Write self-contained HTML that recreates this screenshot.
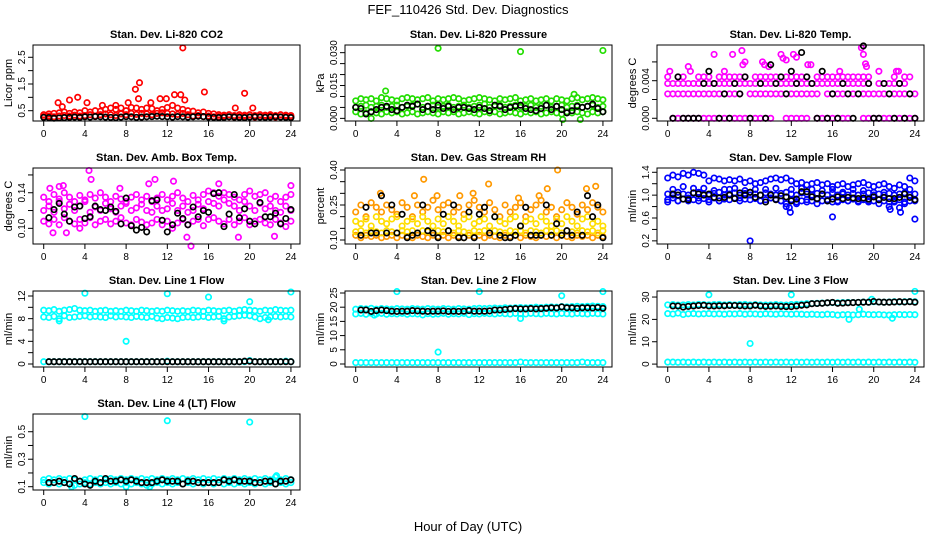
<!DOCTYPE html>
<html><head><meta charset="utf-8"><style>
body{margin:0;background:#fff;}
svg{display:block;font-family:"Liberation Sans",sans-serif;}
</style></head><body>
<svg id="chart" width="936" height="540" viewBox="0 0 936 540" xmlns="http://www.w3.org/2000/svg">
<rect width="936" height="540" fill="#fff"/>
<text x="468" y="14" text-anchor="middle" font-size="13">FEF_110426  Std. Dev. Diagnostics</text>
<text x="468" y="531" text-anchor="middle" font-size="13">Hour of Day (UTC)</text>
</svg>
<script>
const hours=[0,0.5,1,1.5,2,2.5,3,3.5,4,4.5,5,5.5,6,6.5,7,7.5,8,8.5,9,9.5,10,10.5,11,11.5,12,12.5,13,13.5,14,14.5,15,15.5,16,16.5,17,17.5,18,18.5,19,19.5,20,20.5,21,21.5,22,22.5,23,23.5,24];
const xTicks=[0,4,8,12,16,20,24];
// Panel 1 CO2
const co2A=[0.35,0.38,0.4,0.42,0.45,0.4,0.45,0.42,0.5,0.45,0.5,0.48,0.55,0.6,0.55,0.6,0.5,0.62,0.6,0.55,0.6,0.58,0.5,0.55,0.62,0.7,0.6,0.55,0.5,0.48,0.42,0.45,0.4,0.38,0.35,0.33,0.35,0.32,0.35,0.33,0.35,0.32,0.35,0.33,0.35,0.32,0.35,0.33,0.32];
const co2B=[0.28,0.3,0.27,0.3,0.32,0.3,0.33,0.3,0.32,0.35,0.3,0.35,0.38,0.35,0.32,0.38,0.35,0.4,0.36,0.4,0.38,0.35,0.4,0.42,0.4,0.38,0.36,0.4,0.35,0.3,0.32,0.28,0.3,0.27,0.28,0.3,0.27,0.26,0.28,0.3,0.27,0.26,0.28,0.27,0.3,0.26,0.27,0.28,0.26];
const co2K=[0.25,0.24,0.22,0.23,0.24,0.25,0.26,0.25,0.27,0.26,0.28,0.27,0.26,0.25,0.24,0.26,0.28,0.27,0.25,0.26,0.27,0.28,0.29,0.28,0.27,0.26,0.28,0.27,0.26,0.27,0.29,0.28,0.26,0.25,0.24,0.25,0.27,0.26,0.25,0.24,0.26,0.27,0.26,0.25,0.26,0.27,0.26,0.25,0.24];
const co2OutX=[13.5,9.3,8.9,15.6,19.5,12.7,13.3,9.2,11.3,11.9,10.4,4.2,3.3,2.5,1.4,1.8,5.7,7.0,8.2,18.6,20.3,13.7];
const co2OutY=[2.85,1.55,1.3,1.2,1.15,1.1,1.1,0.95,0.95,0.95,0.8,0.8,1.0,0.9,0.8,0.65,0.7,0.7,0.8,0.6,0.6,0.9];
// Panel 2 Pressure
const prA=[0.008,0.009,0.0085,0.009,0.008,0.0095,0.009,0.0085,0.008,0.009,0.0095,0.009,0.0085,0.009,0.0095,0.008,0.009,0.0085,0.009,0.0095,0.009,0.008,0.0085,0.009,0.0095,0.009,0.0085,0.008,0.009,0.0085,0.009,0.0095,0.008,0.0085,0.009,0.008,0.0085,0.009,0.008,0.009,0.0085,0.008,0.009,0.0095,0.0085,0.009,0.0095,0.009,0.0085];
const prB=[0.005,0.0055,0.006,0.005,0.0055,0.006,0.005,0.0055,0.006,0.005,0.0055,0.006,0.0065,0.005,0.0055,0.006,0.005,0.0055,0.006,0.005,0.0055,0.006,0.005,0.0055,0.006,0.0065,0.005,0.0055,0.006,0.005,0.0055,0.006,0.005,0.0055,0.006,0.005,0.0055,0.006,0.005,0.0055,0.006,0.005,0.0055,0.006,0.005,0.0055,0.006,0.005,0.0055];
const prC=[0.003,0.002,0.0025,0.003,0.0025,0.002,0.003,0.0025,0.003,0.002,0.0025,0.003,0.002,0.0025,0.003,0.0025,0.002,0.003,0.0025,0.003,0.002,0.0025,0.003,0.0025,0.002,0.003,0.0025,0.003,0.002,0.0025,0.003,0.0025,0.002,0.003,0.0025,0.003,0.002,0.0025,0.003,0.0025,0.002,0.003,0.0025,0.003,0.0025,0.002,0.003,0.0025,0.003];
const prK=[0.005,0.0045,0.002,0.003,0.004,0.005,0.0055,0.004,0.0035,0.005,0.006,0.0055,0.0065,0.004,0.0055,0.004,0.006,0.0045,0.0055,0.004,0.005,0.005,0.0045,0.004,0.005,0.0045,0.0035,0.006,0.0055,0.004,0.005,0.0055,0.006,0.0045,0.004,0.0035,0.0045,0.006,0.004,0.0055,0.004,0.0025,0.0035,0.0055,0.005,0.0055,0.0065,0.0045,0.003];
const prOutX=[8,16,24,2.9,21.2,20.1,21.8,1.5];
const prOutY=[0.032,0.0305,0.031,0.0125,0.011,-0.0005,-0.0005,0.0];
// Panel 3 Temp
const tmA=[0.0026,0.0026,0.0026,0.0026,0.0026,0.0026,0.0026,0.0026,0.0026,0.0026,0.0026,0.0026,0.0026,0.0026,0.0026,null,0.0026,0.0026,0.0026,0.0026,0.0026,0.0026,0.0026,0.0026,0.0026,0.0026,0.0026,0.0026,0.0026,0.0026,null,0.0026,0.0026,0.0026,0.0026,0.0026,0.0026,0.0026,0.0026,0.0026,0.0026,0.0026,0.0026,0.0026,0.0026,0.0026,0.0026,0.0026,0.0026];
const tmB=[0.0037,0.0037,0.0037,0.0037,0.0037,0.0037,0.0037,0.0037,0.0037,0.0037,0.0037,0.0037,0.0037,0.0037,0.0037,0.0037,0.0037,0.0037,0.0037,0.0037,0.0037,0.0037,0.0037,0.0037,0.0037,0.0037,0.0037,0.0037,0.0037,0.0037,0.0037,0.0037,0.0037,0.0037,0.0037,0.0037,0.0037,0.0037,0.0037,0.0037,null,0.0037,0.0037,0.0037,0.0037,0.0037,0.0037,null,null];
const tmC=[0.0044,null,0.0044,0.0044,null,null,0.0044,0.0044,0.0044,null,0.0044,0.0044,0.0044,0.0044,0.0044,0.0044,null,0.0044,0.0044,0.0044,0.0044,0.0044,0.0044,0.0044,0.0044,0.0044,0.0044,0.0044,null,0.0044,0.0044,0.0044,0.0044,0.0044,0.0044,0.0044,0.0044,0.0044,0.0044,0.0044,null,null,null,null,0.0044,null,0.0044,0.0044,null];
const tmD=[null,0,0,0,0,0,0,0,0,0,0,0,0,0,0,0,0,0,0,0,0,null,null,0,0,0,0,0,null,0,0,0,0,0,0,0,null,null,0,0,0,0,0,0,0,0,0,0,0];
const tmK=[null,0,0.0044,0,0,0,0,0.0037,0.005,0.0037,0,0.0026,0,0.0037,0.0026,0.0044,0,null,0.0037,0,0.0057,0.0037,0.0044,0.0026,0.005,0.0037,0.007,0.0044,0.0037,0,0.005,0,0.0026,0,0.0037,0.0026,0,0.0026,0.0077,0.0037,0,0,0.0037,0.0026,0,0.0037,0,0.0026,0];
const tmOutX=[0.2,2,2.2,4.5,6.3,7.2,7.5,7.3,9.2,9.4,9.8,11,11.2,11.5,12.2,12.5,13.6,13.9,18.8,19,19.3,19.2,22.2,22.4,5.5,16.7,20.5];
const tmOutY=[0.005,0.0055,0.005,0.0068,0.0068,0.0072,0.006,0.0057,0.006,0.0057,0.0055,0.0068,0.0064,0.0062,0.0068,0.0065,0.0057,0.0057,0.0075,0.0068,0.0055,0.0058,0.005,0.005,0.005,0.005,0.005];
// Panel 4 Amb box
const abA=[0.12,0.125,0.118,0.13,0.122,0.127,0.12,0.125,0.13,0.118,0.124,0.12,0.128,0.122,0.118,0.125,0.13,0.12,0.123,0.127,0.12,0.118,0.125,0.12,0.122,0.128,0.12,0.125,0.118,0.12,0.127,0.122,0.13,0.128,0.125,0.132,0.128,0.125,0.12,0.13,0.125,0.12,0.128,0.122,0.125,0.12,0.118,0.125,0.12];
const abB=[0.108,0.105,0.11,0.104,0.112,0.108,0.105,0.11,0.106,0.112,0.104,0.108,0.11,0.105,0.108,0.112,0.106,0.104,0.11,0.107,0.104,0.106,0.11,0.104,0.108,0.1,0.106,0.11,0.104,0.108,0.11,0.103,0.11,0.112,0.108,0.105,0.11,0.104,0.108,0.112,0.104,0.108,0.11,0.106,0.104,0.11,0.106,0.102,0.108];
const abC=[0.135,0.13,0.138,0.133,0.14,0.135,0.13,0.137,0.132,0.138,0.134,0.14,0.135,0.13,0.136,0.133,0.128,0.135,0.138,0.132,0.136,0.13,0.134,0.138,0.132,0.136,0.14,0.134,0.13,0.137,0.132,0.138,0.142,0.14,0.136,0.14,0.138,0.135,0.132,0.138,0.142,0.136,0.138,0.14,0.133,0.136,0.13,0.135,0.138];
const abK=[null,0.112,0.121,0.128,0.116,0.108,0.124,0.125,0.111,0.113,0.125,0.121,0.12,0.124,0.119,0.105,0.134,0.103,0.098,0.101,0.096,0.131,0.132,0.109,0.096,0.104,0.117,0.111,0.104,0.124,0.113,0.12,0.118,0.139,0.14,0.102,0.116,0.138,0.112,0.122,0.108,0.105,0.129,0.113,0.113,0.117,0.105,0.111,0.121];
const abOutX=[4.4,4.6,0.6,1.5,1.9,10.2,10.8,12.6,17,24,14.3,13.9,18.9,22.4,2.2,0.9,3.5,7.4];
const abOutY=[0.165,0.155,0.145,0.147,0.148,0.15,0.155,0.153,0.15,0.148,0.08,0.09,0.09,0.091,0.095,0.095,0.1,0.145];
// Panel 5 RH
const rhA=[0.12,0.11,0.12,0.115,0.12,0.11,0.115,0.12,0.11,0.12,0.115,0.11,0.12,0.115,0.11,0.12,0.115,0.12,0.11,0.12,0.115,0.11,0.12,0.115,0.12,0.11,0.12,0.115,0.11,0.12,0.115,0.12,0.11,0.12,0.115,0.11,0.12,0.115,0.12,0.11,0.12,0.115,0.11,0.12,0.115,0.12,0.11,0.12,0.115];
const rhB=[0.135,0.14,0.13,0.14,0.135,0.13,0.14,0.135,0.13,0.14,0.135,0.14,0.13,0.14,0.135,0.13,0.14,0.135,0.14,0.13,0.14,0.135,0.13,0.14,0.135,0.14,0.13,0.14,0.135,0.13,0.14,0.135,0.14,0.13,0.14,0.135,0.13,0.14,0.135,0.14,0.13,0.14,0.135,0.13,0.14,0.135,0.14,0.13,0.14];
const rhC=[0.22,0.25,0.2,0.26,0.24,0.22,0.25,0.23,0.21,0.26,0.24,0.2,0.25,0.22,0.24,0.27,0.23,0.25,0.26,0.22,0.24,0.21,0.25,0.27,0.24,0.22,0.26,0.23,0.2,0.25,0.22,0.24,0.26,0.2,0.23,0.25,0.27,0.22,0.24,0.2,0.23,0.26,0.24,0.21,0.25,0.23,0.26,0.24,0.22];
const rhD=[0.18,0.17,0.19,0.16,0.2,0.18,0.17,0.19,0.2,0.16,0.18,0.19,0.17,0.2,0.18,0.16,0.19,0.17,0.2,0.18,0.16,0.19,0.2,0.17,0.18,0.19,0.16,0.2,0.18,0.17,0.19,0.2,0.16,0.18,0.19,0.17,0.2,0.18,0.16,0.19,0.17,0.2,0.18,0.16,0.19,0.2,0.17,0.18,0.16];
const rhK=[null,0.12,0.24,0.13,0.13,0.29,0.13,0.25,0.13,0.21,0.11,0.12,0.13,0.25,0.14,0.13,0.11,0.21,0.14,0.25,0.11,0.11,0.22,0.11,0.21,0.24,0.13,0.2,0.12,0.11,0.11,0.12,0.16,0.24,0.12,0.12,0.12,0.25,0.12,0.17,0.12,0.14,0.12,0.22,0.12,0.29,0.2,0.25,0.11];
const rhOutX=[6.6,19.6,12.9,23.3,2.4,5.7,10.1,11.4,18.6,22.4,7.9,15.8,17.8];
const rhOutY=[0.36,0.4,0.34,0.33,0.3,0.29,0.29,0.3,0.32,0.32,0.29,0.28,0.29];
// Panel 6 Sample flow
const sfA=[0.92,0.95,0.9,0.93,0.95,0.92,0.9,0.94,0.92,0.95,0.9,0.93,0.92,0.95,0.9,0.93,0.92,0.94,0.9,0.92,0.95,0.93,0.9,0.85,0.92,0.88,0.9,0.92,0.9,0.93,0.9,0.92,0.88,0.9,0.92,0.9,0.93,0.9,0.92,0.88,0.9,0.92,0.9,0.88,0.9,0.92,0.88,0.9,0.92];
const sfB=[1.02,1.0,1.05,1.02,1.0,1.04,1.05,1.02,1.0,1.03,1.05,1.0,1.02,1.04,1.0,1.03,1.05,1.02,1.0,1.04,1.02,1.0,1.03,1.05,1.02,1.0,1.04,1.02,1.0,1.03,1.02,1.0,1.04,1.0,1.02,1.0,1.03,1.0,1.02,1.04,1.0,1.02,1.0,1.03,1.0,1.02,1.04,1.0,1.02];
const sfC=[1.3,1.35,1.32,1.38,1.35,1.4,1.38,1.35,1.25,1.3,1.28,1.25,1.27,1.25,1.28,1.22,1.25,1.2,1.22,1.25,1.28,1.3,1.27,1.3,1.25,1.2,1.22,1.18,1.2,1.22,1.18,1.2,1.15,1.18,1.2,1.15,1.18,1.2,1.22,1.18,1.15,1.18,1.2,1.15,1.12,1.18,1.15,1.3,1.25];
const sfD=[0.88,1.1,0.9,1.15,0.9,1.12,0.95,1.12,0.88,1.08,0.9,1.1,1.1,1.12,0.95,1.08,1.0,1.1,0.9,1.1,0.95,1.12,0.9,0.8,1.1,0.85,1.12,0.88,1.1,0.85,1.08,0.9,1.1,0.88,1.05,0.9,1.1,0.88,1.08,0.9,1.05,0.85,1.05,0.8,0.88,0.78,0.85,1.1,0.9];
const sfK=[null,1.02,1.0,0.93,0.92,1.04,1.02,1.0,1.02,0.96,0.95,0.96,1.0,0.94,1.04,1.0,1.05,0.96,1.0,0.88,1.0,0.92,0.99,0.97,0.9,0.93,1.06,1.06,0.97,0.94,1.02,0.9,0.93,0.97,0.94,0.96,0.95,0.94,0.95,0.93,0.97,0.92,0.96,0.94,0.94,0.96,1.02,0.96,0.92];
const sfOutX=[8,16,24,11.9,21.6,22.6,11.8];
const sfOutY=[0.2,0.62,0.58,0.7,0.75,0.7,0.78];
// Panel 7 Line 1
const l1A=[9.5,9.4,9.6,9.3,9.5,9.6,9.8,9.5,9.4,9.5,9.3,9.4,9.5,9.3,9.4,9.3,9.5,9.4,9.3,9.5,9.4,9.3,9.4,9.3,9.5,9.4,9.3,9.4,9.3,9.5,9.4,9.3,9.5,9.4,9.3,9.4,9.5,9.3,9.5,9.6,9.5,9.4,9.3,9.5,9.4,9.6,9.5,9.4,9.5];
const l1B=[8.3,8.2,8.4,8.0,8.5,8.2,8.3,8.4,8.5,8.3,8.4,8.3,8.2,8.5,8.3,8.4,8.3,8.2,8.4,8.3,8.2,8.4,8.1,8.0,8.2,8.1,8.0,8.2,8.3,8.2,8.3,8.4,8.2,8.3,8.4,8.0,8.3,8.4,8.5,8.6,8.5,8.3,8.0,8.2,8.3,8.4,8.3,8.4,8.3];
const l1C=[0.4,0.4,0.4,0.4,0.4,0.4,0.4,0.4,0.4,0.4,0.4,0.4,0.4,0.4,0.4,0.4,0.4,0.4,0.4,0.4,0.4,0.4,0.4,0.4,0.5,0.4,0.4,0.4,0.4,0.4,0.4,0.4,0.4,0.4,0.4,0.4,0.4,0.4,0.4,0.4,0.6,0.4,0.4,0.4,0.4,0.4,0.4,0.5,0.4];
const l1K=[null,0.4,0.4,0.4,0.4,0.4,0.4,0.4,0.4,0.4,0.4,0.4,0.4,0.4,0.4,0.4,0.4,0.4,0.4,0.4,0.4,0.4,0.4,0.4,0.4,0.4,0.4,0.4,0.4,0.4,0.4,0.4,0.4,0.4,0.4,0.4,0.4,0.4,0.4,0.5,0.5,0.4,0.4,0.4,0.4,0.4,0.4,0.4,0.4];
const l1OutX=[4,12,16,20,24,8,1.5,17.5,21.8];
const l1OutY=[12.5,12.4,11.8,11,12.7,4,7.6,7.6,7.8];
// Panel 8 Line 2
const l2A=[19.3,19.5,19.4,19.6,19.3,19.5,19.4,19.3,19.5,19.4,19.3,19.5,19.4,19.3,19.5,19.4,19.3,19.5,19.4,19.3,19.5,19.4,19.3,19.5,19.6,19.5,19.6,19.7,19.6,19.8,19.7,19.8,19.9,19.8,19.9,20,19.9,20,20.1,20,20.2,20.1,20.2,20.3,20.2,20.3,20.4,20.3,20.2];
const l2B=[17.6,17.8,17.5,17.9,17.6,17.8,17.5,17.7,17.6,17.8,17.5,17.7,17.6,17.3,17.7,17.5,17.6,17.8,17.5,17.7,17.6,17.8,17.4,17.7,17.6,17.8,17.7,17.6,17.8,17.7,17.6,17.8,17.7,17.6,17.8,17.7,17.6,17.8,17.7,17.6,17.8,17.7,17.6,17.8,17.7,17.6,17.8,17.7,17.6];
const l2C=[0.5,0.5,0.5,0.5,0.5,0.5,0.5,0.5,0.5,0.5,0.5,0.5,0.5,0.5,0.5,0.5,0.5,0.5,0.5,0.5,0.5,0.5,0.5,0.5,0.5,0.5,0.5,0.5,0.5,0.5,0.5,0.5,0.7,0.5,0.5,0.5,0.5,0.5,0.5,0.5,0.5,0.5,0.5,0.5,0.7,0.5,0.5,0.5,0.5];
const l2K=[null,19,19,18.5,18.8,19,18.8,18.6,18.5,18.6,18.6,18.8,18.7,18.6,18.5,18.6,18.6,18.7,18.5,18.6,18.5,18.6,18.8,18.6,18.6,18.6,18.7,19,19,19.2,19.4,19.5,19.4,19.4,19.5,19.4,19.5,19.6,19.8,19.7,20.1,19.8,19.8,19.6,19.8,19.8,19.7,19.9,19.6];
const l2OutX=[4,12,16,20,24,8,1.8];
const l2OutY=[25.5,25.5,16,24,25.5,4.2,17.2];
// Panel 9 Line 3
const l3A=[26.5,26.6,26.4,26.5,26.6,26.5,26.7,26.6,26.5,26.6,26.7,26.5,26.6,26.5,26.6,26.7,26.5,26.6,26.5,26.4,26.5,26.6,26.5,26.4,26.6,26.7,26.8,27,27.1,27.2,27.3,27.4,27.5,27.4,27.5,27.6,27.5,27.6,27.8,27.7,27.9,27.8,27.7,27.8,27.9,27.8,27.9,28,27.9];
const l3B=[22.6,22.4,22.8,22.2,22.5,22.6,22.4,22.5,22.6,22.4,22.5,22.3,22.5,22.4,22.6,22.3,22.5,22.4,22.3,22.5,22.4,22.3,22.5,22.4,22.3,22.4,22.3,22.2,22.3,22.2,22.1,22.3,22.2,21.9,22.1,22.2,22,22.1,22.3,22.2,22.1,22.2,22,21.9,22.1,22.2,22.1,22.2,22.1];
const l3C=[0.9,0.9,0.8,0.9,0.8,0.9,0.8,0.9,0.8,0.9,0.8,0.9,0.8,0.9,0.8,0.9,0.8,0.9,0.8,0.9,0.8,0.9,0.8,0.9,0.8,0.9,0.8,0.9,0.8,0.9,0.8,0.9,0.8,0.9,0.8,0.9,0.8,0.9,0.8,0.9,0.8,0.9,0.8,0.9,0.8,0.9,0.8,0.9,0.8];
const l3K=[null,26,26,25.5,25.8,26,26.2,26.3,26,26,26.1,26.1,26.2,26.2,26.1,26,26,26.3,26,25.8,25.9,26,25.8,25.7,25.7,26,26.3,26.5,27,27.1,27.2,27.4,27.6,27.2,27.3,27.4,27.5,27.6,27.7,27.7,28,27.8,27.7,27.7,27.8,27.9,27.8,27.9,27.7];
const l3OutX=[4,12,24,8,19.8,18.6,17.6,21.8];
const l3OutY=[31,31,32.5,9.2,29,24.5,20,20.5];
// Panel 10 Line 4
const l4A=[0.15,0.16,0.15,0.16,0.15,0.16,0.15,0.14,0.15,0.16,0.15,0.16,0.15,0.16,0.15,0.16,0.15,0.16,0.15,0.16,0.15,0.16,0.15,0.16,0.15,0.16,0.15,0.16,0.15,0.16,0.15,0.16,0.15,0.16,0.15,0.16,0.15,0.16,0.15,0.16,0.15,0.16,0.15,0.16,0.15,0.17,0.15,0.16,0.15];
const l4B=[0.13,0.12,0.13,0.12,0.13,0.12,0.11,0.12,0.13,0.12,0.13,0.12,0.13,0.12,0.13,0.12,0.13,0.12,0.13,0.12,0.11,0.12,0.13,0.12,0.13,0.12,0.13,0.12,0.13,0.12,0.13,0.12,0.13,0.12,0.13,0.12,0.13,0.12,0.13,0.12,0.13,0.12,0.13,0.12,0.13,0.12,0.13,0.12,0.13];
const l4K=[null,0.13,0.13,0.14,0.13,0.12,0.16,0.14,0.12,0.11,0.14,0.13,0.16,0.14,0.14,0.15,0.14,0.15,0.14,0.13,0.13,0.13,0.14,0.15,0.14,0.14,0.14,0.12,0.14,0.14,0.13,0.13,0.13,0.13,0.13,0.15,0.14,0.15,0.14,0.14,0.14,0.13,0.13,0.14,0.14,0.12,0.14,0.14,0.15];
const l4OutX=[4,12,20,22.6,10.3,8,2.7];
const l4OutY=[0.61,0.58,0.57,0.18,0.1,0.1,0.1];

const panels=[
 {id:'co2',title:'Stan. Dev. Li-820 CO2',ylab:'Licor ppm',c:0,r:0,ylim:[0.114,2.96],ticks:[0.5,1,1.5,2,2.5],labels:['0.5',null,'1.5',null,'2.5'],series:[[co2A,'#ff0000'],[co2B,'#ff0000']],ox:co2OutX,oy:co2OutY,oc:'#ff0000',k:co2K},
 {id:'pressure',title:'Stan. Dev. Li-820 Pressure',ylab:'kPa',c:1,r:0,ylim:[-0.0012,0.0335],ticks:[0,0.005,0.01,0.015,0.02,0.025,0.03],labels:['0.000',null,null,'0.015',null,null,'0.030'],series:[[prA,'#22dd00'],[prB,'#22dd00'],[prC,'#22dd00']],ox:prOutX,oy:prOutY,oc:'#22dd00',k:prK},
 {id:'temp',title:'Stan. Dev. Li-820 Temp.',ylab:'degrees C',c:2,r:0,ylim:[-0.00029,0.0078],ticks:[0,0.002,0.004,0.006],labels:['0.000',null,'0.004',null],series:[[tmA,'#ff00ff'],[tmB,'#ff00ff'],[tmC,'#ff00ff'],[tmD,'#ff00ff']],ox:tmOutX,oy:tmOutY,oc:'#ff00ff',k:tmK},
 {id:'amb-box',title:'Stan. Dev. Amb. Box Temp.',ylab:'degrees C',c:0,r:1,ylim:[0.0824,0.1678],ticks:[0.1,0.12,0.14,0.16],labels:['0.10',null,'0.14',null],series:[[abA,'#ff00ff'],[abB,'#ff00ff'],[abC,'#ff00ff']],ox:abOutX,oy:abOutY,oc:'#ff00ff',k:abK},
 {id:'rh',title:'Stan. Dev. Gas Stream RH',ylab:'percent',c:1,r:1,ylim:[0.0829,0.4086],ticks:[0.1,0.15,0.2,0.25,0.3,0.35,0.4],labels:['0.10',null,null,'0.25',null,null,'0.40'],series:[[rhA,'#ff9900'],[rhB,'#ffdd00'],[rhC,'#ff9900'],[rhD,'#ffdd00']],ox:rhOutX,oy:rhOutY,oc:'#ff9900',k:rhK},
 {id:'sample-flow',title:'Stan. Dev. Sample Flow',ylab:'ml/min',c:2,r:1,ylim:[0.145,1.475],ticks:[0.2,0.4,0.6,0.8,1.0,1.2,1.4],labels:['0.2',null,'0.6',null,'1.0',null,'1.4'],series:[[sfA,'#0000ff'],[sfB,'#0000ff'],[sfC,'#0000ff'],[sfD,'#0000ff']],ox:sfOutX,oy:sfOutY,oc:'#0000ff',k:sfK},
 {id:'line1',title:'Stan. Dev. Line 1 Flow',ylab:'ml/min',c:0,r:2,ylim:[-0.53,12.88],ticks:[0,2,4,6,8,10,12],labels:['0',null,'4',null,'8',null,'12'],series:[[l1A,'#00ffff'],[l1B,'#00ffff'],[l1C,'#00ffff']],ox:l1OutX,oy:l1OutY,oc:'#00ffff',k:l1K},
 {id:'line2',title:'Stan. Dev. Line 2 Flow',ylab:'ml/min',c:1,r:2,ylim:[-1.06,25.7],ticks:[0,5,10,15,20,25],labels:['0','5','10','15','20','25'],series:[[l2A,'#00ffff'],[l2B,'#00ffff'],[l2C,'#00ffff']],ox:l2OutX,oy:l2OutY,oc:'#00ffff',k:l2K},
 {id:'line3',title:'Stan. Dev. Line 3 Flow',ylab:'ml/min',c:2,r:2,ylim:[-1.3,32.7],ticks:[0,10,20,30],labels:['0','10','20','30'],series:[[l3A,'#00ffff'],[l3B,'#00ffff'],[l3C,'#00ffff']],ox:l3OutX,oy:l3OutY,oc:'#00ffff',k:l3K},
 {id:'line4',title:'Stan. Dev. Line 4 (LT) Flow',ylab:'ml/min',c:0,r:3,ylim:[0.076,0.629],ticks:[0.1,0.2,0.3,0.4,0.5],labels:['0.1',null,'0.3',null,'0.5'],series:[[l4A,'#00ffff'],[l4B,'#00ffff']],ox:l4OutX,oy:l4OutY,oc:'#00ffff',k:l4K}
];

const NS='http://www.w3.org/2000/svg';
const svg=document.getElementById('chart');
function mk(tag,attrs,parent){const e=document.createElementNS(NS,tag);for(const a in attrs)e.setAttribute(a,attrs[a]);parent.appendChild(e);return e;}

panels.forEach(p=>{
  const L=33+312*p.c, R=300+312*p.c, T=45+123*p.r, B=121+123*p.r;
  const xs=h=>L+(h+1.04)*(R-L)/25.92;
  const ys=v=>B-(v-p.ylim[0])*(B-T)/(p.ylim[1]-p.ylim[0]);
  const g=mk('g',{},svg);
  
  
  const t=mk('text',{x:(L+R)/2,y:T-7,'text-anchor':'middle','font-size':11,'font-weight':'bold'},g);
  t.textContent=p.title;
  
  
  const yl=mk('text',{transform:`translate(${L-21},${(T+B)/2}) rotate(-90)`,'text-anchor':'middle','font-size':11},g);
  yl.textContent=p.ylab;
  
  
  const dg=mk('g',{fill:'none','stroke-width':1.7},g);
  
  
  function pt(h,v,col){
    if(v===null||v===undefined)return;
    const c=mk('circle',{cx:xs(h).toFixed(1),cy:ys(v).toFixed(1),r:2.7,stroke:col},dg);
    
    
  }
  p.series.forEach(s=>{s[0].forEach((v,i)=>pt(hours[i],v,s[1]));});
  p.ox.forEach((h,i)=>pt(h,p.oy[i],p.oc));
  p.k.forEach((v,i)=>pt(hours[i],v,'#000'));
  const bx=mk('rect',{x:L,y:T,width:R-L,height:B-T,fill:'none',stroke:'#000','stroke-width':1},g);
  
  
  xTicks.forEach(h=>{
    const x=xs(h);
    const tk=mk('line',{x1:x,x2:x,y1:B,y2:B+5,stroke:'#000'},g);
    
    
    const lb=mk('text',{x:x,y:B+16,'text-anchor':'middle','font-size':10},g);
    lb.textContent=h;
    
    
  });
  const xa=mk('line',{x1:xs(0),x2:xs(24),y1:B,y2:B,stroke:'#000'},g);
  
  
  p.ticks.forEach((v,i)=>{
    const y=ys(v);
    const tk=mk('line',{x1:L-5,x2:L,y1:y,y2:y,stroke:'#000'},g);
    
    
    if(p.labels[i]!==null){
      const lb=mk('text',{transform:`translate(${L-8},${y}) rotate(-90)`,'text-anchor':'middle','font-size':10},g);
      lb.textContent=p.labels[i];
      
      
    }
  });
});
</script>
</body></html>
